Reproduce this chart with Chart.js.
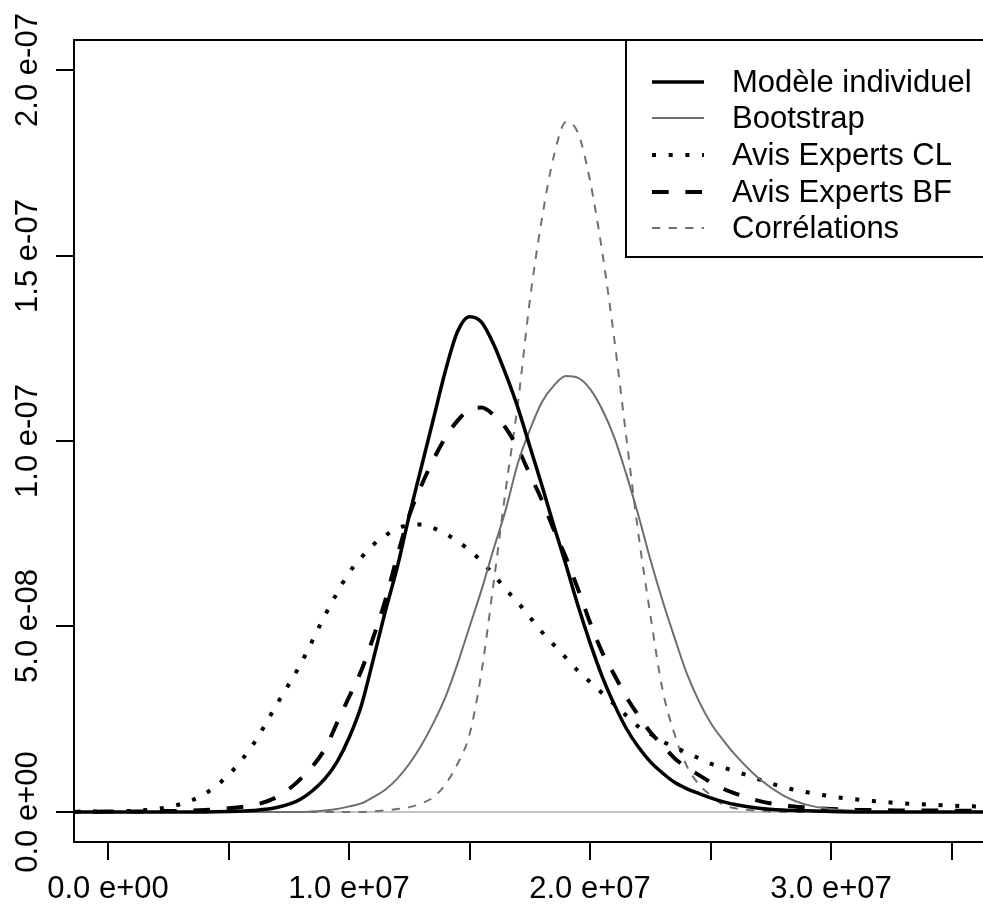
<!DOCTYPE html>
<html>
<head>
<meta charset="utf-8">
<script src="https://cdn.jsdelivr.net/npm/chart.js@4.4.1/dist/chart.umd.min.js"></script>
<style>
  html, body { margin: 0; padding: 0; background: #fff; overflow: hidden; }
  #wrap { position: absolute; left: 0; top: 0; width: 1010px; height: 916px; }
</style>
</head>
<body>
<div id="wrap"><canvas id="densityChart"></canvas></div>
<script>
// x values in millions (1e6), densities in units of 1e-9
var X_UNIT = 1e6;
var Y_UNIT = 1e-9;

var xs = [-2, -1, 0, 1, 2, 3, 4, 5, 6, 7, 8, 9,
          9.5, 10, 10.5, 11, 11.5, 12, 12.5, 13, 13.5, 14, 14.5, 15, 15.5, 16, 16.5, 17,
          17.5, 18, 18.5, 19, 19.5, 20, 20.5, 21, 21.5, 22, 22.5, 23, 23.5, 24, 24.5, 25, 25.5, 26,
          27, 28, 29, 30, 31, 32, 33, 34, 35, 36, 37];

var modeleIndividuel = [0, 0, 0, 0, 0, 0, 0, 0.1, 0.4, 1.2, 3.5, 9,
                        13.5, 20, 28.5, 41, 54, 66, 80, 93, 106, 119, 129.5, 133.5, 132, 126, 118, 109,
                        98.5, 88, 77, 66.5, 55.5, 45.5, 36.5, 29, 22.5, 17.5, 13.5, 10.5, 8, 6.3, 5, 3.8, 2.8, 2,
                        1, 0.5, 0.3, 0.1, 0, 0, 0, 0, 0, 0, 0];
var bootstrap = [0, 0, 0, 0, 0, 0, 0, 0, 0, 0, 0, 0.4,
                 0.8, 1.5, 2.3, 4, 6, 9, 13, 18, 24, 31, 40, 50, 60, 71, 81.5, 94,
                 103, 110.5, 115, 117.5, 117, 114, 108.5, 101, 91, 80, 68, 57, 47, 37.5, 30, 24, 19.5, 15.5,
                 9, 4.5, 1.9, 0.8, 0.3, 0, 0, 0, 0, 0, 0];
var avisExpertsCL = [0, 0.1, 0.1, 0.3, 0.8, 2.1, 4.8, 10, 18, 29, 40, 53,
                     59, 64.5, 68.5, 72, 74.5, 76.5, 77.3, 77.5, 76.5, 75, 73, 70.5, 67.5, 64, 60, 56.5,
                     52.5, 48.5, 45, 41.5, 38, 35, 32, 29, 26, 23, 21, 19, 17.5, 16, 14.5, 13, 12, 11,
                     8.8, 6.7, 5.3, 4.2, 3.4, 2.8, 2.3, 2, 1.7, 1.5, 1.3];
var avisExpertsBF = [0, 0, 0.1, 0.1, 0.2, 0.3, 0.5, 1, 1.8, 4, 9, 17,
                     24, 31, 38, 47, 57, 69, 80, 88, 95, 101, 105.5, 108.5, 109, 107, 103.5, 98,
                     91, 84, 76, 68.5, 60, 51, 43, 37, 31, 26, 21.5, 18, 14.5, 12, 10, 8, 6.3, 5,
                     3, 1.8, 1.2, 0.8, 0.6, 0.5, 0.4, 0.4, 0.3, 0.3, 0.3];
var correlations = [0, 0, 0, 0, 0, 0, 0, 0, 0, 0, 0, 0,
                    0, 0, 0, 0.2, 0.4, 0.8, 1.3, 2.3, 4, 7.5, 13, 21, 38, 62, 87, 110,
                    138, 160, 177, 186, 183, 170, 151, 127.5, 101, 75, 53, 33, 21, 12.5, 7.5, 4.5, 2, 1,
                    0.3, 0, 0, 0, 0, 0, 0, 0, 0, 0, 0];

var seriesNames = ["Modèle individuel", "Bootstrap", "Avis Experts CL", "Avis Experts BF", "Corrélations"];

var xTicks = [0, 5, 10, 15, 20, 25, 30, 35];
var xTickLabels = ["0.0 e+00", "", "1.0 e+07", "", "2.0 e+07", "", "3.0 e+07", ""];
var yTicks = [0, 50, 100, 150, 200];
var yTickLabels = ["0.0 e+00", "5.0 e-08", "1.0 e-07", "1.5 e-07", "2.0 e-07"];

var FONT = "31px 'Liberation Sans', Arial, sans-serif";

function toPoints(vals) {
  return xs.map(function (x, i) { return { x: x * X_UNIT, y: vals[i] * Y_UNIT }; });
}

var styles = [
  { color: "#000000", width: 3.5, dash: [] },
  { color: "#6e6e6e", width: 2, dash: [] },
  { color: "#000000", width: 4, dash: [4, 12.7] },
  { color: "#000000", width: 4, dash: [16.7, 16.7] },
  { color: "#707070", width: 2, dash: [8.3, 8.3] }
];
var allSeries = [modeleIndividuel, bootstrap, avisExpertsCL, avisExpertsBF, correlations];

var datasets = allSeries.map(function (vals, i) {
  return {
    label: seriesNames[i],
    data: toPoints(vals),
    borderColor: styles[i].color,
    borderWidth: styles[i].width,
    borderDash: styles[i].dash,
    borderCapStyle: "butt",
    cubicInterpolationMode: "monotone",
    pointRadius: 0,
    fill: false,
    order: 0
  };
});

// horizontal reference line at zero
datasets.push({
  label: "zero",
  data: [{ x: -5 * X_UNIT, y: 0 }, { x: 45 * X_UNIT, y: 0 }],
  borderColor: "#c4c4c4",
  borderWidth: 2,
  pointRadius: 0,
  fill: false,
  order: 1
});

// box, ticks and tick labels drawn R-style
var axesPlugin = {
  id: "rAxes",
  afterDraw: function (chart) {
    var ctx = chart.ctx;
    var a = chart.chartArea;
    var sx = chart.scales.x, sy = chart.scales.y;
    ctx.save();
    ctx.strokeStyle = "#000";
    ctx.lineWidth = 2;
    ctx.strokeRect(a.left, a.top, a.right - a.left, a.bottom - a.top);

    ctx.fillStyle = "#000";
    ctx.font = FONT;
    // x axis
    ctx.textAlign = "center";
    ctx.textBaseline = "alphabetic";
    xTicks.forEach(function (t, i) {
      var px = Math.round(sx.getPixelForValue(t * X_UNIT));
      ctx.beginPath();
      ctx.moveTo(px, a.bottom);
      ctx.lineTo(px, a.bottom + 18);
      ctx.stroke();
      if (xTickLabels[i]) ctx.fillText(xTickLabels[i], px, a.bottom + 56);
    });
    // y axis
    yTicks.forEach(function (t, i) {
      var py = Math.round(sy.getPixelForValue(t * Y_UNIT));
      ctx.beginPath();
      ctx.moveTo(a.left, py);
      ctx.lineTo(a.left - 18, py);
      ctx.stroke();
      ctx.save();
      ctx.translate(a.left - 37, py);
      ctx.rotate(-Math.PI / 2);
      ctx.textAlign = "center";
      ctx.textBaseline = "alphabetic";
      ctx.fillText(yTickLabels[i], 0, 0);
      ctx.restore();
    });
    ctx.restore();
  }
};

var legendPlugin = {
  id: "rLegend",
  afterDraw: function (chart) {
    var ctx = chart.ctx;
    var left = 626, top = 40, bottom = 257;
    ctx.save();
    ctx.fillStyle = "#fff";
    ctx.fillRect(left, top, 500, bottom - top);
    ctx.strokeStyle = "#000";
    ctx.lineWidth = 2;
    ctx.strokeRect(left, top, 500, bottom - top);
    var rows = [82, 118, 155, 192, 228];
    ctx.font = FONT;
    ctx.textAlign = "left";
    ctx.textBaseline = "middle";
    seriesNames.forEach(function (name, i) {
      ctx.beginPath();
      ctx.strokeStyle = styles[i].color;
      ctx.lineWidth = styles[i].width;
      ctx.setLineDash(styles[i].dash);
      ctx.lineCap = "butt";
      ctx.moveTo(652, rows[i]);
      ctx.lineTo(704, rows[i]);
      ctx.stroke();
      ctx.setLineDash([]);
      ctx.fillStyle = "#000";
      ctx.fillText(name, 732, rows[i] + 1);
    });
    ctx.restore();
  }
};

var ctx = document.getElementById("densityChart").getContext("2d");
var densityChart = new Chart(ctx, {
  type: "line",
  data: { datasets: datasets },
  options: {
    responsive: true,
    maintainAspectRatio: false,
    animation: false,
    events: [],
    layout: { padding: { left: 74, top: 40, right: 10, bottom: 74 } },
    scales: {
      x: { type: "linear", display: false, min: -1.41 * X_UNIT, max: 37 * X_UNIT },
      y: { type: "linear", display: false, min: -8.1 * Y_UNIT, max: 208.1 * Y_UNIT }
    },
    plugins: {
      legend: { display: false },
      tooltip: { enabled: false }
    }
  },
  plugins: [axesPlugin, legendPlugin]
});
</script>
</body>
</html>
